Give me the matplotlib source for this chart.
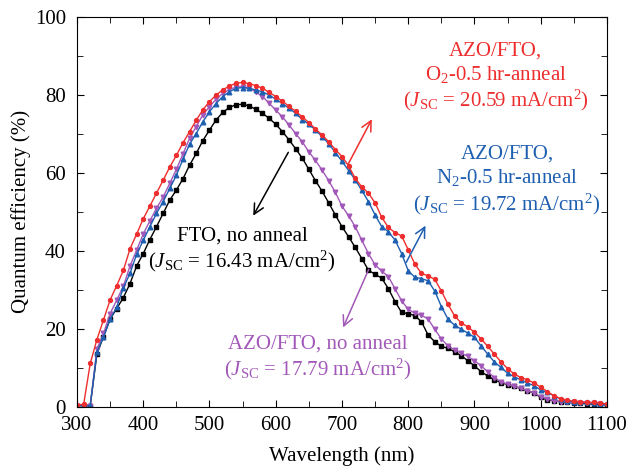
import numpy as np
import matplotlib
matplotlib.use('Agg')
import matplotlib.pyplot as plt
from matplotlib.ticker import MultipleLocator

plt.rcParams['font.family'] = ['Liberation Serif', 'DejaVu Serif']
plt.rcParams['mathtext.fontset'] = 'custom'
plt.rcParams['mathtext.rm'] = 'Liberation Serif'
plt.rcParams['mathtext.it'] = 'Liberation Serif:italic'

# wavelength grid (nm), one point every 10 nm
wavelength = np.arange(300, 1101, 10)

qe_o2 = [0.5, 0.6, 11.1, 17.2, 22.3, 27.4, 31.1, 35.0, 40.5, 44.3,
         48.2, 51.5, 54.8, 58.1, 61.5, 64.5, 67.7, 70.6, 73.5, 76.2,
         78.3, 80.0, 81.3, 82.3, 83.0, 83.2, 82.9, 82.4, 81.7, 80.7,
         79.6, 78.4, 77.1, 75.8, 74.4, 72.9, 71.3, 69.7, 68.0, 66.0,
         64.2, 61.8, 58.6, 56.4, 54.8, 52.3, 48.6, 46.0, 44.7, 43.8,
         40.3, 36.6, 34.2, 33.6, 32.7, 29.7, 26.3, 23.3, 21.5, 20.5,
         19.1, 17.4, 15.5, 13.5, 11.5, 9.8, 8.4, 7.5, 6.9, 6.1,
         5.0, 3.9, 2.8, 2.1, 1.7, 1.4, 1.3, 1.1, 1.1, 0.9, 0.7]

qe_n2 = [0.3, 0.3, 0.3, 14.0, 17.9, 22.4, 25.6, 30.5, 34.2, 39.1,
         42.7, 46.2, 49.6, 52.6, 56.0, 59.4, 63.5, 67.4, 70.1, 73.1,
         75.7, 77.8, 79.6, 80.8, 81.7, 81.9, 81.7, 81.3, 80.8, 80.0,
         78.9, 77.8, 76.6, 75.3, 73.7, 72.5, 71.0, 69.3, 67.5, 65.2,
         63.0, 60.6, 58.2, 55.5, 52.6, 49.2, 46.2, 44.9, 42.8, 39.3,
         34.9, 33.2, 32.9, 32.3, 29.7, 25.7, 22.5, 20.9, 19.9, 18.9,
         17.8, 15.6, 13.5, 11.5, 10.1, 8.6, 7.7, 6.9, 6.1, 5.4,
         4.3, 3.7, 2.8, 2.0, 1.5, 1.3, 1.2, 1.1, 1.0, 0.8, 0.2]

qe_azo = [0.3, 0.3, 0.3, 14.8, 18.8, 23.9, 27.4, 30.9, 36.1, 40.2,
          44.3, 47.7, 50.9, 53.8, 57.3, 60.9, 64.9, 68.9, 71.9, 74.9,
          77.0, 78.9, 80.4, 81.4, 82.0, 82.1, 81.7, 80.8, 79.6, 77.9,
          76.1, 74.4, 72.3, 70.1, 68.0, 65.4, 63.2, 60.7, 58.0, 55.0,
          51.5, 49.0, 46.2, 42.7, 39.3, 36.4, 34.8, 33.4, 30.3, 27.2,
          25.0, 24.0, 23.5, 22.5, 19.9, 17.4, 15.6, 14.6, 13.8, 12.9,
          11.8, 10.5, 9.0, 7.5, 6.4, 5.8, 5.2, 4.7, 4.1, 3.5,
          2.6, 2.0, 1.5, 1.3, 1.2, 1.1, 1.0, 1.0, 0.9, 0.7, 0.5]

qe_fto = [0.3, 0.3, 0.3, 13.5, 18.0, 22.5, 25.2, 28.0, 31.6, 36.1,
          39.3, 42.9, 46.2, 49.6, 53.0, 55.6, 58.5, 62.0, 65.0, 68.3,
          71.0, 73.6, 75.5, 76.8, 77.5, 77.6, 77.2, 76.3, 75.3, 74.0,
          72.5, 70.6, 68.5, 66.2, 63.8, 60.9, 58.0, 55.3, 52.3, 49.2,
          46.2, 43.6, 40.9, 38.0, 35.0, 34.0, 33.0, 30.3, 27.0, 24.2,
          23.9, 23.4, 21.8, 18.4, 16.7, 15.5, 15.0, 14.1, 13.1, 11.8,
          10.5, 9.0, 7.9, 6.9, 6.2, 5.7, 5.2, 4.7, 4.1, 3.5,
          2.4, 1.8, 1.5, 1.3, 1.1, 1.0, 0.9, 0.8, 0.7, 0.6, 0.5]

red = '#ee2e2e'
blue = '#1f5fb0'
purple = '#a258b8'

fig = plt.figure(figsize=(6.29, 4.67), dpi=100)
ax = fig.add_axes([0.1224, 0.129, 0.8426, 0.8346])

ax.plot(wavelength, qe_fto, color='black', marker='s', ms=2.5, lw=1.0)
ax.plot(wavelength, qe_azo, color=purple, marker='v', ms=3.3, lw=1.0)
ax.plot(wavelength, qe_n2, color=blue, marker='^', ms=3.3, lw=1.0)
ax.plot(wavelength, qe_o2, color=red, marker='o', ms=2.8, lw=1.0)

ax.set_xlim(300, 1100)
ax.set_ylim(0, 100)
ax.xaxis.set_major_locator(MultipleLocator(100))
ax.xaxis.set_minor_locator(MultipleLocator(50))
ax.yaxis.set_major_locator(MultipleLocator(20))
ax.yaxis.set_minor_locator(MultipleLocator(10))
ax.tick_params(which='both', direction='in', top=True, right=True, labelsize=15)
ax.tick_params(which='major', length=5)
ax.tick_params(which='minor', length=4)
ax.tick_params(axis='x', pad=7)
ax.tick_params(axis='y', pad=8)
ax.set_xlabel('Wavelength (nm)', fontsize=15, labelpad=8)
ax.set_ylabel('Quantum efficiency (%)', fontsize=15, labelpad=3)

fs = 15
ax.text(932, 84.5, 'AZO/FTO,\nO$_2$-0.5 hr-anneal\n($J_{\\rm SC}$ = 20.59 mA/cm$^2$)',
        color=red, fontsize=fs, ha='center', va='center', linespacing=1.2)
ax.annotate('', xy=(747, 74.4), xytext=(707, 61.5),
            arrowprops=dict(arrowstyle='->', color=red, lw=1.1, mutation_scale=18))

ax.text(949, 57.9, 'AZO/FTO,\nN$_2$-0.5 hr-anneal\n($J_{\\rm SC}$ = 19.72 mA/cm$^2$)',
        color=blue, fontsize=fs, ha='center', va='center', linespacing=1.2)
ax.annotate('', xy=(828, 47.1), xytext=(795, 36.4),
            arrowprops=dict(arrowstyle='->', color=blue, lw=1.1, mutation_scale=18))

ax.text(549, 40.2, 'FTO, no anneal\n($J_{\\rm SC}$ = 16.43 mA/cm$^2$)',
        color='black', fontsize=fs, ha='center', va='center', linespacing=1.2)
ax.annotate('', xy=(564, 48.4), xytext=(621, 65.9),
            arrowprops=dict(arrowstyle='->', color='black', lw=1.1, mutation_scale=18))

ax.text(664, 12.4, 'AZO/FTO, no anneal\n($J_{\\rm SC}$ = 17.79 mA/cm$^2$)',
        color=purple, fontsize=fs, ha='center', va='center', linespacing=1.2)
ax.annotate('', xy=(700, 19.7), xytext=(742, 35.9),
            arrowprops=dict(arrowstyle='->', color=purple, lw=1.1, mutation_scale=18))

fig.savefig('out.png', dpi=100)
